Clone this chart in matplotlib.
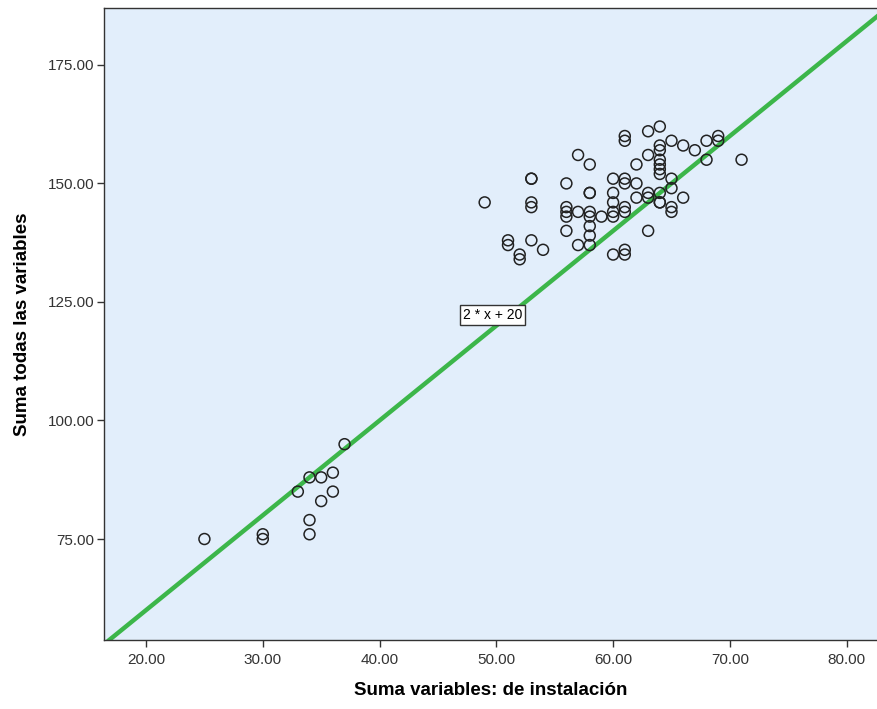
import matplotlib
matplotlib.use("Agg")
import matplotlib.pyplot as plt

# suma de variables de instalación (x) frente a la suma de todas las variables (y)
inst_bajo = [25, 30, 30, 33, 34, 34, 34, 35, 35, 36, 36, 37]
total_bajo = [75, 76, 75, 85, 88, 79, 76, 88, 83, 89, 85, 95]

inst_alto = [49,
             51, 51,
             52, 52,
             53, 53, 53, 53, 53,
             54,
             56, 56, 56, 56, 56,
             57, 57, 57,
             58, 58, 58, 58, 58, 58, 58, 58,
             59,
             60, 60, 60, 60, 60, 60,
             61, 61, 61, 61, 61, 61, 61, 61,
             62, 62, 62,
             63, 63, 63, 63, 63,
             64, 64, 64, 64, 64, 64, 64, 64, 64, 64,
             65, 65, 65, 65, 65,
             66, 66,
             67,
             68, 68,
             69, 69,
             71]
total_alto = [146,
              138, 137,
              135, 134,
              151, 151, 146, 145, 138,
              136,
              150, 145, 144, 143, 140,
              156, 144, 137,
              154, 148, 148, 144, 143, 141, 139, 137,
              143,
              151, 148, 146, 144, 143, 135,
              160, 159, 151, 150, 145, 144, 136, 135,
              154, 150, 147,
              161, 156, 148, 147, 140,
              162, 158, 157, 155, 154, 153, 152, 148, 146, 146,
              159, 151, 149, 145, 144,
              158, 147,
              157,
              159, 155,
              160, 159,
              155]

x = inst_bajo + inst_alto
y = total_bajo + total_alto

# recta de referencia y = 2x + 20
pendiente = 2
ordenada = 20

fig = plt.figure(figsize=(8.77, 7.09), dpi=100)
ax = fig.add_axes([104 / 877, 69 / 709, 773 / 877, 632 / 709])
ax.set_facecolor('#e2eefb')

ax.axline((0, ordenada), slope=pendiente, color='#3cb64a', lw=3.2, zorder=2)
ax.scatter(x, y, s=62, facecolors='none', edgecolors='#222222', linewidths=1.1, zorder=3)

ax.text(47.15, 122.3, '2 * x + 20', fontsize=10, family='Liberation Sans', va='center', ha='left',
        bbox=dict(boxstyle='square,pad=0.2', facecolor='white', edgecolor='#333333', lw=1.0), zorder=4)

ax.set_xlim(16.4, 82.6)
ax.set_ylim(53.7, 187)
ax.set_xticks([20, 30, 40, 50, 60, 70, 80])
ax.set_yticks([75, 100, 125, 150, 175])
ax.set_xticklabels(['%.2f' % v for v in ax.get_xticks()])
ax.set_yticklabels(['%.2f' % v for v in ax.get_yticks()])
ax.tick_params(direction='out', length=5, width=1, colors='#333333', labelsize=11, labelcolor='#333333')
ax.tick_params(axis='x', pad=4)
ax.tick_params(axis='y', pad=2)
for lbl in ax.get_xticklabels() + ax.get_yticklabels():
    lbl.set_family('Liberation Sans')

for s in ax.spines.values():
    s.set_color('#333333')
    s.set_linewidth(1)
ax.spines['right'].set_visible(False)

ax.set_xlabel('Suma variables: de instalación', fontsize=13.5, fontweight='bold',
              family='Liberation Sans', labelpad=11)
ax.set_ylabel('Suma todas las variables', fontsize=13.5, fontweight='bold',
              family='Liberation Sans', labelpad=12)

fig.savefig('out.png', dpi=100)
